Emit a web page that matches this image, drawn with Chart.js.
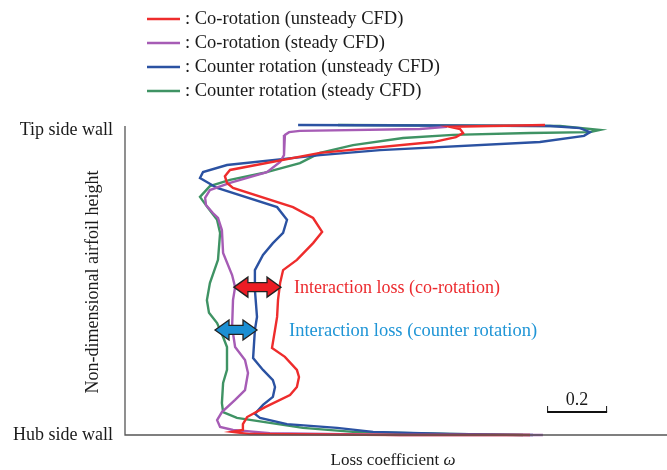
<!DOCTYPE html>
<html>
<head>
<meta charset="utf-8">
<script src="https://cdn.jsdelivr.net/npm/chart.js@4/dist/chart.umd.min.js"></script>
<style>
  html, body { margin: 0; padding: 0; background: #fff; }
  canvas { display: block; }
</style>
</head>
<body>
<canvas id="c" width="667" height="470"></canvas>
<script>
// Spanwise loss profiles: [loss coefficient, non-dimensional height] from tip (1) to hub (0)
const coUnsteady = [
  [1.400,1.000],[1.083,0.994],[1.117,0.987],[1.127,0.974],[1.103,0.961],[1.027,0.945],
  [0.650,0.910],[0.350,0.855],[0.333,0.835],[0.340,0.813],[0.360,0.797],[0.560,0.735],
  [0.627,0.700],[0.657,0.655],[0.627,0.619],[0.573,0.565],[0.527,0.532],[0.517,0.490],
  [0.510,0.435],[0.507,0.381],[0.500,0.339],[0.490,0.281],[0.533,0.252],[0.573,0.210],
  [0.580,0.187],[0.573,0.155],[0.550,0.129],[0.467,0.090],[0.407,0.058],[0.393,0.035],
  [0.393,0.016],[0.357,0.010],[0.417,0.003],[0.917,0.000],[1.350,0.000]
];
const coSteady = [
  [1.073,0.994],[0.983,0.987],[0.583,0.981],[0.547,0.977],[0.533,0.968],[0.530,0.935],
  [0.530,0.903],[0.517,0.881],[0.473,0.848],[0.350,0.813],[0.283,0.790],[0.267,0.765],
  [0.270,0.742],[0.293,0.716],[0.310,0.700],[0.323,0.661],[0.327,0.587],[0.357,0.516],
  [0.367,0.477],[0.360,0.435],[0.357,0.348],[0.367,0.284],[0.400,0.242],[0.410,0.200],
  [0.400,0.145],[0.367,0.113],[0.323,0.074],[0.307,0.048],[0.317,0.026],[0.360,0.016],
  [0.483,0.006],[0.917,0.000],[1.393,0.000]
];
const counterUnsteady = [
  [0.577,1.000],[1.417,0.997],[1.517,0.990],[1.550,0.977],[1.530,0.965],[1.383,0.945],
  [0.850,0.919],[0.650,0.903],[0.340,0.871],[0.260,0.848],[0.250,0.829],[0.307,0.797],
  [0.507,0.735],[0.540,0.694],[0.527,0.652],[0.493,0.619],[0.460,0.581],[0.433,0.532],
  [0.433,0.468],[0.440,0.381],[0.433,0.339],[0.427,0.248],[0.460,0.210],[0.493,0.177],
  [0.500,0.155],[0.493,0.123],[0.460,0.097],[0.433,0.068],[0.450,0.055],[0.540,0.035],
  [0.707,0.023],[0.827,0.010],[1.083,0.003],[1.360,0.000]
];
const counterSteady = [
  [0.710,1.000],[1.450,0.997],[1.583,0.984],[1.550,0.977],[1.350,0.974],[1.093,0.968],
  [0.927,0.958],[0.760,0.935],[0.650,0.910],[0.583,0.877],[0.460,0.845],[0.350,0.823],
  [0.283,0.803],[0.250,0.768],[0.277,0.732],[0.307,0.694],[0.317,0.652],[0.310,0.565],
  [0.283,0.490],[0.273,0.435],[0.280,0.394],[0.307,0.361],[0.327,0.316],[0.340,0.284],
  [0.340,0.210],[0.327,0.168],[0.323,0.103],[0.327,0.074],[0.373,0.055],[0.483,0.039],
  [0.593,0.023],[0.760,0.010],[1.083,0.003],[1.327,0.000]
];

const seriesNames = [
  ': Co-rotation (unsteady CFD)',
  ': Co-rotation (steady CFD)',
  ': Counter rotation (unsteady CFD)',
  ': Counter rotation (steady CFD)'
];
const seriesColors = ['#ee2c2c', '#a65cb5', '#2b52a2', '#3f9364'];

// Interaction-loss arrows: [height, loss from, loss to]
const coArrow = [0.477, 0.363, 0.520];
const counterArrow = [0.339, 0.300, 0.440];
const scaleBar = [1.407, 0.2];   // start value, length in loss coefficient

const toXY = arr => arr.map(p => ({ x: p[0], y: p[1] }));
const profiles = [coUnsteady, coSteady, counterUnsteady, counterSteady];

const serif = '"Liberation Serif", "DejaVu Serif", serif';

function doubleArrow(ctx, x1, x2, y, fill) {
  const head = 14, bh = 4.5, hh = 10;
  ctx.save();
  ctx.beginPath();
  ctx.moveTo(x1, y);
  ctx.lineTo(x1 + head, y - hh);
  ctx.lineTo(x1 + head, y - bh);
  ctx.lineTo(x2 - head, y - bh);
  ctx.lineTo(x2 - head, y - hh);
  ctx.lineTo(x2, y);
  ctx.lineTo(x2 - head, y + hh);
  ctx.lineTo(x2 - head, y + bh);
  ctx.lineTo(x1 + head, y + bh);
  ctx.lineTo(x1 + head, y + hh);
  ctx.closePath();
  ctx.fillStyle = fill;
  ctx.fill();
  ctx.lineWidth = 1.3;
  ctx.strokeStyle = '#222';
  ctx.stroke();
  ctx.restore();
}

const decorations = {
  id: 'decorations',
  afterDatasetsDraw(chart) {
    const ctx = chart.ctx;
    const xs = chart.scales.x, ys = chart.scales.y;
    const left = xs.getPixelForValue(0), bottom = ys.getPixelForValue(0);
    const top = ys.getPixelForValue(1);

    // axis lines
    ctx.save();
    ctx.strokeStyle = '#555';
    ctx.lineWidth = 1.3;
    ctx.beginPath();
    ctx.moveTo(left, top + 1);
    ctx.lineTo(left, bottom);
    ctx.lineTo(chart.width, bottom);
    ctx.stroke();

    // wall labels
    ctx.fillStyle = '#1a1a1a';
    ctx.font = '18px ' + serif;
    ctx.textAlign = 'right';
    ctx.textBaseline = 'middle';
    ctx.fillText('Tip side wall', 113, top + 5);
    ctx.fillText('Hub side wall', 113, bottom);

    // y title
    ctx.save();
    ctx.translate(93, (top + bottom) / 2 + 2);
    ctx.rotate(-Math.PI / 2);
    ctx.textAlign = 'center';
    ctx.font = '18px ' + serif;
    ctx.fillText('Non-dimensional airfoil height', 0, 0);
    ctx.restore();

    // x title with italic omega
    ctx.textBaseline = 'middle';
    ctx.textAlign = 'left';
    ctx.font = '17px ' + serif;
    const t1 = 'Loss coefficient ';
    const w1 = ctx.measureText(t1).width;
    ctx.font = 'italic 17px ' + serif;
    const w2 = ctx.measureText('ω').width;
    const x0 = 393 - (w1 + w2) / 2;
    ctx.font = '17px ' + serif;
    ctx.fillText(t1, x0, 461);
    ctx.font = 'italic 17px ' + serif;
    ctx.fillText('ω', x0 + w1, 461);

    // legend
    ctx.font = '18.5px ' + serif;
    seriesNames.forEach((n, i) => {
      const y = 19 + i * 24;
      ctx.strokeStyle = seriesColors[i];
      ctx.lineWidth = 2.5;
      ctx.beginPath();
      ctx.moveTo(147, y);
      ctx.lineTo(180, y);
      ctx.stroke();
      ctx.fillStyle = '#1a1a1a';
      ctx.fillText(n, 185, y);
    });

    // interaction loss arrows and labels
    ctx.font = '18px ' + serif;
    const ay1 = ys.getPixelForValue(coArrow[0]);
    doubleArrow(ctx, xs.getPixelForValue(coArrow[1]), xs.getPixelForValue(coArrow[2]), ay1, '#ec1c24');
    ctx.fillStyle = '#ec2a2e';
    ctx.fillText('Interaction loss (co-rotation)', 294, ay1 + 1);

    const ay2 = ys.getPixelForValue(counterArrow[0]);
    doubleArrow(ctx, xs.getPixelForValue(counterArrow[1]), xs.getPixelForValue(counterArrow[2]), ay2, '#1b8fd3');
    ctx.font = '18.5px ' + serif;
    ctx.fillStyle = '#1f95d6';
    ctx.fillText('Interaction loss (counter rotation)', 289, ay2 + 1);

    // scale bar
    ctx.font = '18px ' + serif;
    const sx1 = xs.getPixelForValue(scaleBar[0]);
    const sx2 = xs.getPixelForValue(scaleBar[0] + scaleBar[1]);
    const sy = 412;
    ctx.strokeStyle = '#111';
    ctx.lineWidth = 2;
    ctx.beginPath();
    ctx.moveTo(sx1, sy);
    ctx.lineTo(sx2, sy);
    ctx.stroke();
    ctx.lineWidth = 1;
    ctx.beginPath();
    ctx.moveTo(sx1 + 0.5, sy); ctx.lineTo(sx1 + 0.5, sy - 6);
    ctx.moveTo(sx2 - 0.5, sy); ctx.lineTo(sx2 - 0.5, sy - 6);
    ctx.stroke();
    ctx.fillStyle = '#1a1a1a';
    ctx.textAlign = 'center';
    ctx.fillText(String(scaleBar[1]), (sx1 + sx2) / 2, 400);
    ctx.restore();
  }
};

new Chart(document.getElementById('c'), {
  type: 'scatter',
  data: {
    datasets: profiles.map((p, i) => ({
      label: seriesNames[i],
      data: toXY(p),
      showLine: true,
      borderColor: seriesColors[i],
      backgroundColor: seriesColors[i],
      borderWidth: 2.4,
      pointRadius: 0,
      tension: 0,
      clip: false
    }))
  },
  options: {
    responsive: false,
    devicePixelRatio: 1,
    animation: false,
    layout: { padding: { left: 125, right: 2, top: 125, bottom: 35 } },
    plugins: { legend: { display: false }, tooltip: { enabled: false } },
    scales: {
      x: { type: 'linear', min: 0, max: 1.8, display: false },
      y: { type: 'linear', min: 0, max: 1, display: false }
    }
  },
  plugins: [decorations]
});
</script>
</body>
</html>
